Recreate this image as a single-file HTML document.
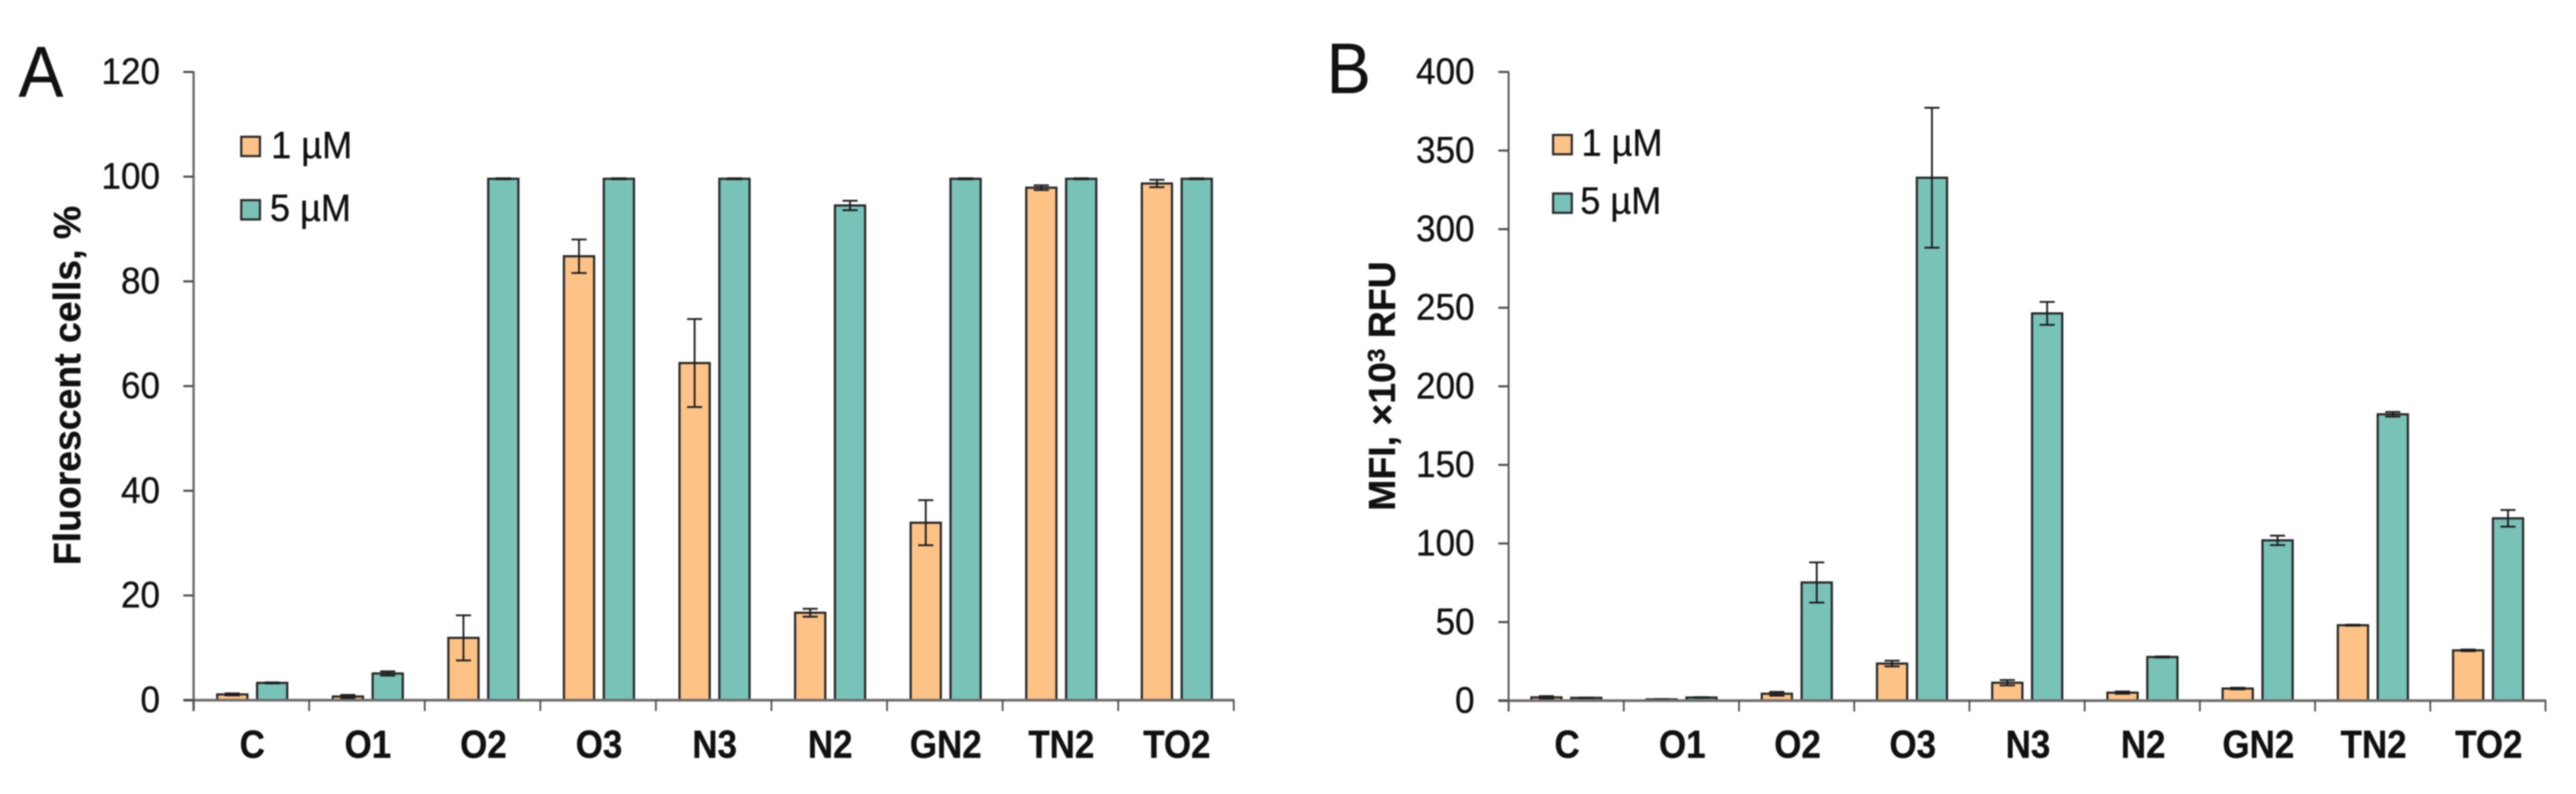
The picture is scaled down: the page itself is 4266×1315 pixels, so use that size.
<!DOCTYPE html>
<html lang="en">
<head>
<meta charset="utf-8">
<title>Fluorescent cells and MFI bar charts</title>
<style>
html,body{margin:0;padding:0;background:#fff;width:4266px;height:1315px;overflow:hidden}
svg{display:block;filter:blur(1.1px)}
text{font-family:"Liberation Sans",sans-serif;fill:#111;stroke:#111;stroke-width:0.6px}
</style>
</head>
<body>
<svg id="figure" xmlns="http://www.w3.org/2000/svg" width="4266" height="1315" viewBox="0 0 4266 1315">
  <rect width="4266" height="1315" fill="#ffffff"/>

  <g id="panel-a">
    <text transform="translate(31,160) scale(0.93,1)" font-size="119">A</text>
    <text transform="translate(133,936) rotate(-90)" font-size="63" font-weight="700" textLength="595" lengthAdjust="spacingAndGlyphs">Fluorescent cells, %</text>
    <g>
      <rect x="399.5" y="226.5" width="31" height="32" fill="#fcc286" stroke="#2a2a2a" stroke-width="3.6"/>
      <text transform="translate(449,262) scale(0.95,1)" font-size="63">1 µM</text>
      <rect x="399.5" y="331.5" width="31" height="32" fill="#78c2b8" stroke="#2a2a2a" stroke-width="3.6"/>
      <text transform="translate(447,366) scale(0.95,1)" font-size="63">5 µM</text>
    </g>
  </g>

  <g id="panel-b">
    <text transform="translate(2197,154) scale(0.93,1)" font-size="118">B</text>
    <text transform="translate(2310,846) rotate(-90)" font-size="62" font-weight="700">MFI, ×10<tspan font-size="40" dy="-17">3</tspan><tspan dy="17"> RFU</tspan></text>
    <g>
      <rect x="2572" y="223.5" width="31" height="32" fill="#fcc286" stroke="#2a2a2a" stroke-width="3.6"/>
      <text transform="translate(2619,258) scale(0.95,1)" font-size="63">1 µM</text>
      <rect x="2572" y="320.5" width="31" height="32" fill="#78c2b8" stroke="#2a2a2a" stroke-width="3.6"/>
      <text transform="translate(2617,354) scale(0.95,1)" font-size="63">5 µM</text>
    </g>
  </g>
</svg>

<script>
const categories = ["C", "O1", "O2", "O3", "N3", "N2", "GN2", "TN2", "TO2"];

const cellsTicks = [0, 20, 40, 60, 80, 100, 120];
const cells1uM = [1.1, 0.7, 11.9, 84.8, 64.4, 16.7, 33.9, 97.9, 98.7];
const cells1uMErr = [0.2, 0.3, 4.3, 3.2, 8.4, 0.75, 4.3, 0.45, 0.7];
const cells5uM = [3.3, 5.1, 99.6, 99.6, 99.6, 94.5, 99.6, 99.6, 99.6];
const cells5uMErr = [0.1, 0.4, 0.1, 0.1, 0.1, 0.9, 0.1, 0.1, 0.1];

const mfiTicks = [0, 50, 100, 150, 200, 250, 300, 350, 400];
const mfi1uM = [2.1, 0.8, 4.4, 23.6, 11.4, 5.1, 7.7, 48, 32];
const mfi1uMErr = [0.8, 0.2, 1.2, 1.8, 1.7, 0.7, 0.5, 0.3, 0.5];
const mfi5uM = [1.8, 2, 75.2, 332.7, 246.4, 27.8, 102, 182.2, 116];
const mfi5uMErr = [0.2, 0.2, 12.8, 44.5, 7.3, 0.3, 3, 1.5, 5.3];

const SVGNS = "http://www.w3.org/2000/svg";

function mk(parent, tag, attrs, text) {
  const el = document.createElementNS(SVGNS, tag);
  for (const k in attrs) el.setAttribute(k, attrs[k]);
  if (text !== undefined) el.textContent = text;
  parent.appendChild(el);
  return el;
}

function drawPanel(panel, cfg) {
  const root = document.getElementById(panel);
  const yScale = v => cfg.y0 - (v / cfg.yMax) * (cfg.y0 - cfg.yTop);
  const xScale = i => cfg.x0 + i * cfg.band;
  const xEnd = xScale(categories.length);

  const barsGroup = mk(root, "g", {});
  
  

  const drawSeries = function (values, errs, offset, fill, seriesName) {
    values.forEach(function (v, i) {
      const cx = xScale(i) + cfg.band / 2 + cfg.shift + offset;
      const y = yScale(v);
      const bar = mk(barsGroup, "rect", {
        x: cx - 25, y: y, width: 50, height: Math.max(cfg.y0 - y, 0.5),
        fill: fill, stroke: "#262626", "stroke-width": 3.6
      });
      
      
      bar.setAttribute("aria-label", categories[i] + " " + seriesName);
    });
    values.forEach(function (v, i) {
      const cx = xScale(i) + cfg.band / 2 + cfg.shift + offset;
      const hi = yScale(v + errs[i]);
      const lo = yScale(v - errs[i]);
      const d = "M" + cx + " " + hi + "V" + lo +
                "M" + (cx - 12.5) + " " + hi + "H" + (cx + 12.5) +
                "M" + (cx - 12.5) + " " + lo + "H" + (cx + 12.5);
      const err = mk(barsGroup, "path", {
        d: d, fill: "none", stroke: "#1c1c1c", "stroke-width": 3
      });
      
      
    });
  };
  drawSeries(cfg.s1, cfg.e1, -33, "#fcc286", "1 µM");
  drawSeries(cfg.s5, cfg.e5, 33, "#78c2b8", "5 µM");

  const yAxis = mk(root, "line", {
    x1: cfg.x0, x2: cfg.x0, y1: cfg.yTop - 1, y2: cfg.y0 + 18,
    stroke: cfg.yAxisColor, "stroke-width": cfg.yAxisWidth
  });
  
  

  const xAxis = mk(root, "line", {
    x1: cfg.x0 - 17, x2: xEnd + 1, y1: cfg.y0, y2: cfg.y0,
    stroke: "#6e6e6e", "stroke-width": 4.5
  });
  
  

  cfg.ticks.forEach(function (t) {
    const y = yScale(t);
    const tick = mk(root, "line", {
      x1: cfg.x0 - 17, x2: cfg.x0, y1: y, y2: y,
      stroke: "#4a4a4a", "stroke-width": 3.4
    });
    
    
    const label = mk(root, "text", {
      transform: "translate(" + cfg.tickRight + "," + (y + 20) + ") scale(0.945,1)",
      "text-anchor": "end", "font-size": 61.5
    }, String(t));
    
    
  });

  for (let i = 0; i <= categories.length; i++) {
    const tick = mk(root, "line", {
      x1: xScale(i), x2: xScale(i), y1: cfg.y0, y2: cfg.y0 + 18,
      stroke: "#4a4a4a", "stroke-width": 2.8
    });
    
    
  }

  categories.forEach(function (c, i) {
    const label = mk(root, "text", {
      transform: "translate(" + (xScale(i) + cfg.band / 2 + 1.5) + ",1255) scale(0.89,1)",
      "text-anchor": "middle", "font-size": 65, "font-weight": 700
    }, c);
    
    
  });
}

drawPanel("panel-a", {
  x0: 320.6, band: 191.4, shift: 1.4, y0: 1159.6, yTop: 119.2, yMax: 120,
  tickRight: 265, yAxisColor: "#6a6a6a", yAxisWidth: 3.8,
  ticks: cellsTicks, s1: cells1uM, e1: cells1uMErr, s5: cells5uM, e5: cells5uMErr
});

drawPanel("panel-b", {
  x0: 2498.3, band: 190.8, shift: 0.3, y0: 1160.4, yTop: 119.2, yMax: 400,
  tickRight: 2442, yAxisColor: "#444444", yAxisWidth: 2.8,
  ticks: mfiTicks, s1: mfi1uM, e1: mfi1uMErr, s5: mfi5uM, e5: mfi5uMErr
});
</script>
</body>
</html>
